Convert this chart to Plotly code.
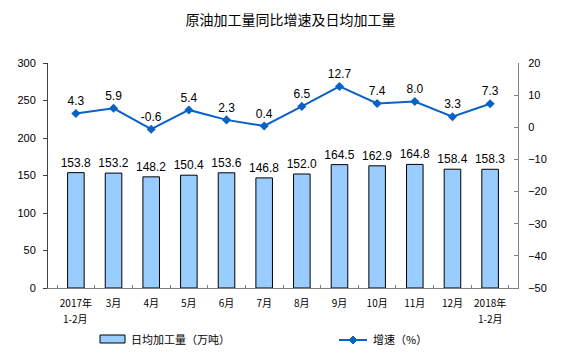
import plotly.graph_objects as go

categories = ["2017年<br>1-2月", "3月", "4月", "5月", "6月", "7月", "8月", "9月", "10月", "11月", "12月", "2018年<br>1-2月"]
daily_output = [153.8, 153.2, 148.2, 150.4, 153.6, 146.8, 152.0, 164.5, 162.9, 164.8, 158.4, 158.3]
growth = [4.3, 5.9, -0.6, 5.4, 2.3, 0.4, 6.5, 12.7, 7.4, 8.0, 3.3, 7.3]
left_ticks = [0, 50, 100, 150, 200, 250, 300]
right_ticks = [20, 10, 0, -10, -20, -30, -40, -50]

bar_name = "日均加工量（万吨）"
line_name = "增速（%）"
title = "原油加工量同比增速及日均加工量"

FONT = "Liberation Sans, Arial, Noto Sans CJK SC"
CJK = "Noto Sans CJK SC, Liberation Sans"
BAR_FILL = "#99CCFF"
LINE_COL = "#0A62C6"

# page body has an 8px margin; compensate so the plot lands where the reference has it
OFF = 8
W, H = 562 - OFF, 358 - OFF
PL, PT, PW, PH = 48, 63, 470, 225   # plot area in page pixels

fig = go.Figure()
fig.add_trace(go.Bar(
    x=categories, y=daily_output, name=bar_name,
    marker=dict(color=BAR_FILL, line=dict(color="#000000", width=1)),
    width=0.44,
    text=[f"{v:.1f}" for v in daily_output], textposition="outside",
    constraintext="none",
    textfont=dict(size=12, color="#000000", family=FONT),
    cliponaxis=False, showlegend=False,
))
fig.add_trace(go.Scatter(
    x=categories, y=growth, name=line_name, yaxis="y2",
    mode="lines+markers+text",
    line=dict(color=LINE_COL, width=2),
    marker=dict(symbol="diamond", size=7, color=LINE_COL),
    text=[f"{v:.1f}" for v in growth], textposition="top center",
    textfont=dict(size=12, color="#000000", family=FONT),
    cliponaxis=False, showlegend=False,
))

first_lines = [c.split("<br>")[0] for c in categories]

fig.update_layout(
    width=W, height=H,
    margin=dict(l=PL - OFF, r=W - (PL - OFF) - PW, t=PT - OFF, b=H - (PT - OFF) - PH,
                autoexpand=False),
    paper_bgcolor="white", plot_bgcolor="white",
    title=dict(text=title, x=0.51, xanchor="center", y=1 - (20 - OFF) / H, yanchor="middle",
               font=dict(size=14, color="#000000", family=CJK)),
    showlegend=False,
    xaxis=dict(
        type="category", showline=True, linecolor="#808080", linewidth=1,
        ticks="inside", tickson="boundaries", ticklen=3, tickcolor="#808080",
        tickangle=0, tickmode="array", tickvals=categories, ticktext=first_lines,
        ticklabelstandoff=6,
        tickfont=dict(size=10, color="#000000", family=CJK),
        showgrid=False, zeroline=False, automargin=False,
    ),
    yaxis=dict(
        range=[0, 300], tickvals=left_ticks, showline=True, linecolor="#404040",
        linewidth=1, ticks="outside", ticklen=4, tickcolor="#404040",
        ticklabelstandoff=5,
        tickfont=dict(size=11, color="#000000", family=FONT),
        showgrid=False, zeroline=False, automargin=False,
    ),
    yaxis2=dict(
        range=[-50, 20], tickvals=right_ticks, overlaying="y", side="right",
        showline=True, linecolor="#808080", linewidth=1, ticks="inside",
        ticklen=4, tickcolor="#808080", ticklabelstandoff=7,
        tickfont=dict(size=11, color="#000000", family=FONT),
        showgrid=False, zeroline=False, automargin=False,
    ),
)

def px(x):
    return (x - PL) / PW

def py(y):
    return (PT + PH - y) / PH

# second line of the two-line category labels
for c in categories:
    if "<br>" in c:
        fig.add_annotation(xref="x", yref="paper", x=c, y=py(318), text=c.split("<br>")[1],
                           showarrow=False, xanchor="center", yanchor="middle",
                           font=dict(size=10, color="#000000", family=CJK))

# manual legend
fig.add_shape(type="rect", xref="paper", yref="paper",
              x0=px(100), x1=px(125), y0=py(343), y1=py(335),
              fillcolor=BAR_FILL, line=dict(color="#000000", width=1))
fig.add_annotation(xref="paper", yref="paper", x=px(129), y=py(339),
                   text=bar_name, showarrow=False, xanchor="left", yanchor="middle",
                   font=dict(size=11, color="#000000", family=CJK))
fig.add_shape(type="line", xref="paper", yref="paper",
              x0=px(339), x1=px(367), y0=py(340), y1=py(340),
              line=dict(color=LINE_COL, width=2))
cx, cy = 353, 340
diamond = (f"M {px(cx - 4)},{py(cy)} L {px(cx)},{py(cy - 4)} "
           f"L {px(cx + 4)},{py(cy)} L {px(cx)},{py(cy + 4)} Z")
fig.add_shape(type="path", xref="paper", yref="paper", path=diamond,
              fillcolor=LINE_COL, line=dict(color=LINE_COL, width=1))
fig.add_annotation(xref="paper", yref="paper", x=px(371), y=py(339),
                   text=line_name, showarrow=False, xanchor="left", yanchor="middle",
                   font=dict(size=11, color="#000000", family=CJK))

fig.write_html("out.html")
